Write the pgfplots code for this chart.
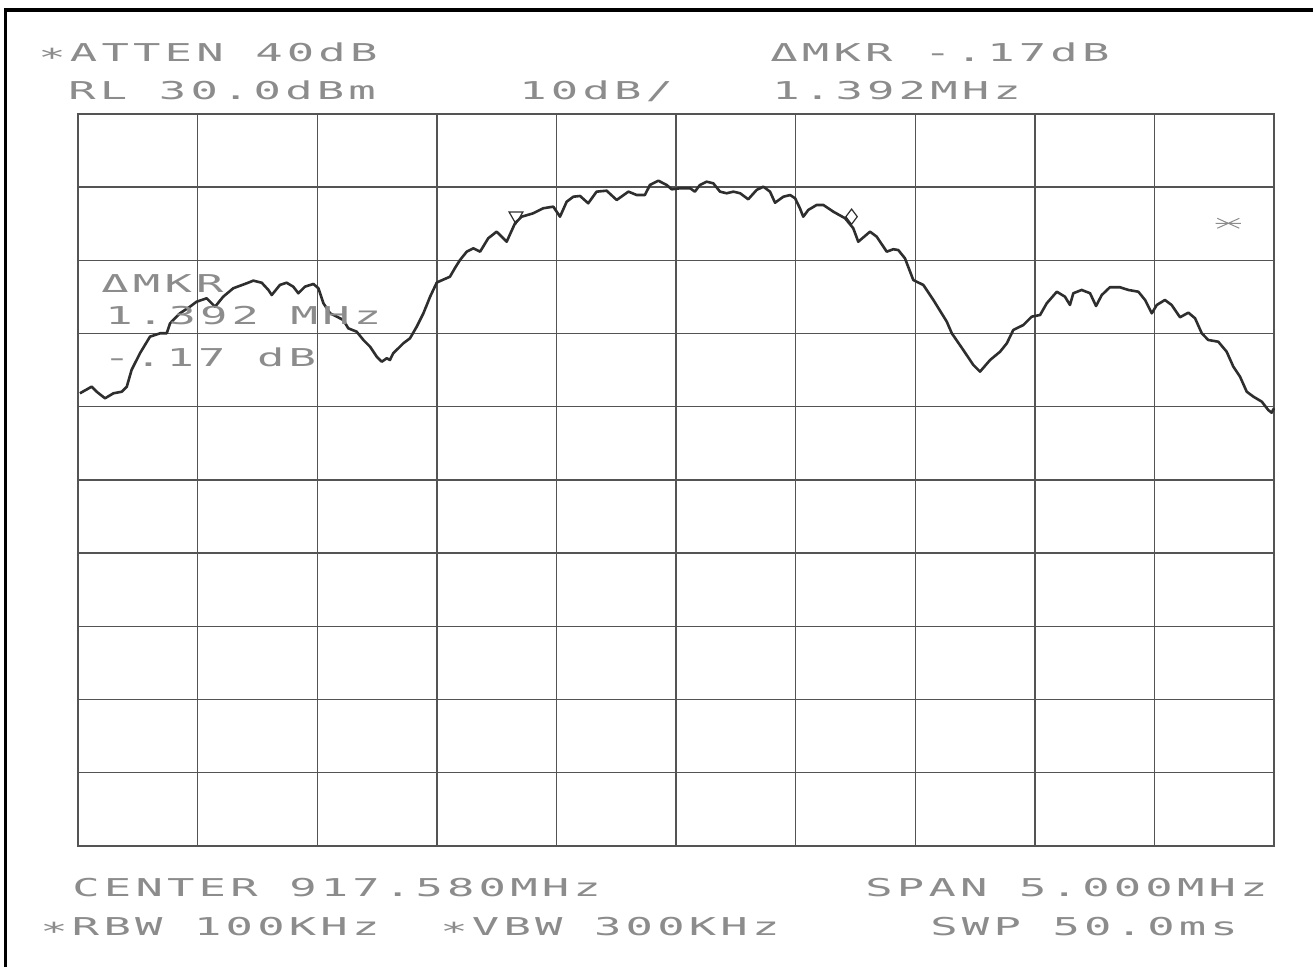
\documentclass[border=0pt]{standalone}
\usepackage{fontspec}
\usepackage{pgfplots}
\pgfplotsset{compat=1.18}
\newfontfamily\plt[FakeStretch=1.85,LetterSpace=17]{DejaVu Sans Mono}
\definecolor{txt}{gray}{0.55}
\definecolor{gridc}{gray}{0.33}
\definecolor{trace}{gray}{0.18}
\pgfdeclareplotmark{pstar}{%
 \pgfpathmoveto{\pgfqpoint{-\pgfplotmarksize}{-0.45\pgfplotmarksize}}%
 \pgfpathlineto{\pgfqpoint{\pgfplotmarksize}{0.45\pgfplotmarksize}}%
 \pgfpathmoveto{\pgfqpoint{-\pgfplotmarksize}{0.45\pgfplotmarksize}}%
 \pgfpathlineto{\pgfqpoint{\pgfplotmarksize}{-0.45\pgfplotmarksize}}%
 \pgfpathmoveto{\pgfqpoint{-1.15\pgfplotmarksize}{0pt}}%
 \pgfpathlineto{\pgfqpoint{1.15\pgfplotmarksize}{0pt}}%
 \pgfusepathqstroke}
\pgfplotstableread{
x y
-2.492 -8.16
-2.443 -7.25
-2.422 -7.94
-2.387 -8.84
-2.352 -8.16
-2.317 -7.94
-2.296 -7.25
-2.276 -4.97
-2.241 -2.69
-2.199 -0.42
-2.157 0.04
-2.129 0.04
-2.115 1.41
-2.074 2.77
-2.032 3.67
-2.004 4.36
-1.962 4.82
-1.927 3.67
-1.893 5.04
-1.851 6.19
-1.795 6.87
-1.767 7.23
-1.732 6.95
-1.704 5.96
-1.690 5.27
-1.656 6.64
-1.628 6.95
-1.600 6.41
-1.579 5.51
-1.551 6.41
-1.516 6.78
-1.495 6.19
-1.474 4.14
-1.446 2.77
-1.418 2.31
-1.391 1.86
-1.370 0.72
-1.335 0.26
-1.307 -0.87
-1.279 -1.79
-1.251 -3.16
-1.230 -3.84
-1.209 -3.37
-1.196 -3.61
-1.182 -2.69
-1.140 -1.33
-1.112 -0.64
-1.084 0.94
-1.056 2.77
-1.028 5.04
-1.000 6.98
-0.945 7.77
-0.924 8.96
-0.903 10.05
-0.875 11.19
-0.847 11.65
-0.819 11.19
-0.785 13.02
-0.750 13.92
-0.708 12.55
-0.673 15.07
-0.645 15.97
-0.597 16.43
-0.555 17.12
-0.513 17.34
-0.485 15.97
-0.457 18.02
-0.429 18.70
-0.401 18.80
-0.367 17.80
-0.332 19.39
-0.290 19.52
-0.248 18.25
-0.199 19.39
-0.164 18.93
-0.130 18.93
-0.109 20.30
-0.074 20.89
-0.039 20.30
-0.018 19.71
0.017 19.85
0.059 19.85
0.079 19.39
0.100 20.30
0.128 20.75
0.156 20.53
0.184 19.39
0.212 19.17
0.240 19.39
0.268 19.17
0.302 18.35
0.337 19.62
0.365 20.07
0.393 19.39
0.414 17.88
0.449 18.70
0.477 18.93
0.498 18.48
0.518 17.12
0.532 15.97
0.553 16.89
0.588 17.57
0.616 17.57
0.658 16.65
0.707 15.75
0.741 14.39
0.762 12.55
0.811 13.92
0.839 13.24
0.881 11.19
0.908 11.52
0.929 11.42
0.957 10.29
0.992 7.32
1.034 6.64
1.076 4.59
1.132 1.63
1.153 0.04
1.201 -2.24
1.243 -4.29
1.271 -5.20
1.313 -3.61
1.355 -2.47
1.383 -1.33
1.410 0.49
1.452 1.17
1.487 2.31
1.522 2.54
1.550 4.14
1.592 5.72
1.626 5.04
1.647 3.91
1.661 5.51
1.696 5.96
1.731 5.51
1.756 3.77
1.780 5.27
1.814 6.33
1.856 6.33
1.891 5.96
1.933 5.72
1.961 4.59
1.989 2.77
2.010 3.91
2.044 4.59
2.072 3.91
2.107 2.23
2.142 2.86
2.170 2.09
2.198 0.04
2.225 -0.87
2.267 -1.11
2.302 -2.47
2.330 -4.52
2.358 -5.89
2.386 -7.94
2.414 -8.62
2.449 -9.30
2.476 -10.44
2.490 -10.81
2.500 -10.20
}\trace
\begin{document}
\begin{tikzpicture}[x=0.5pt,y=0.5pt,
  lbl/.style={anchor=base west, inner sep=0pt, text=txt, font=\plt\fontsize{12.3}{14}\selectfont}]
\path[use as bounding box] (0,0) rectangle (1313,967);
\draw[line width=1.7pt] (5.5,0) -- (5.5,957) -- (1313,957);
\begin{axis}[at={(39pt,60.5pt)}, anchor=south west, scale only axis,
  width=598pt, height=366pt,
  xmin=-2.5, xmax=2.5, ymin=-70, ymax=30,
  xtick={-2.5,-2,-1.5,-1,-0.5,0,0.5,1,1.5,2,2.5},
  ytick={-70,-60,-50,-40,-30,-20,-10,0,10,20,30},
  xticklabels={}, yticklabels={}, major tick length=0pt,
  grid=major, grid style={gridc, line width=0.7pt},
  axis line style={gridc, line width=0.7pt}, clip=false]
\addplot[trace, line width=1.3pt, line join=round] table {\trace};
\addplot[only marks, mark=triangle, mark size=4pt, mark options={rotate=180, trace, line width=0.6pt}] coordinates {(-0.669,16.07)};
\addplot[only marks, mark=diamond, mark size=3.8pt, mark options={trace, line width=0.6pt}] coordinates {(0.734,15.97)};
\addplot[only marks, mark=pstar, mark size=5.5pt, mark options={txt, line width=0.5pt}] coordinates {(2.309,15.07)};
\end{axis}
\node[lbl] at (38,905) {∗ATTEN 40dB};
\node[lbl] at (68,867) {RL 30.0dBm};
\node[lbl] at (519,867) {10dB/};
\node[lbl] at (770,905) {ΔMKR -.17dB};
\node[lbl] at (772,867) {1.392MHz};
\node[lbl] at (101,674) {ΔMKR};
\node[lbl] at (105,642) {1.392 MHz};
\node[lbl] at (103,600) {-.17 dB};
\node[lbl] at (72,70) {CENTER 917.580MHz};
\node[lbl] at (865,70) {SPAN 5.000MHz};
\node[lbl] at (40,31) {∗RBW 100KHz};
\node[lbl] at (440,31) {∗VBW 300KHz};
\node[lbl] at (930,31) {SWP 50.0ms};
\end{tikzpicture}
\end{document}
